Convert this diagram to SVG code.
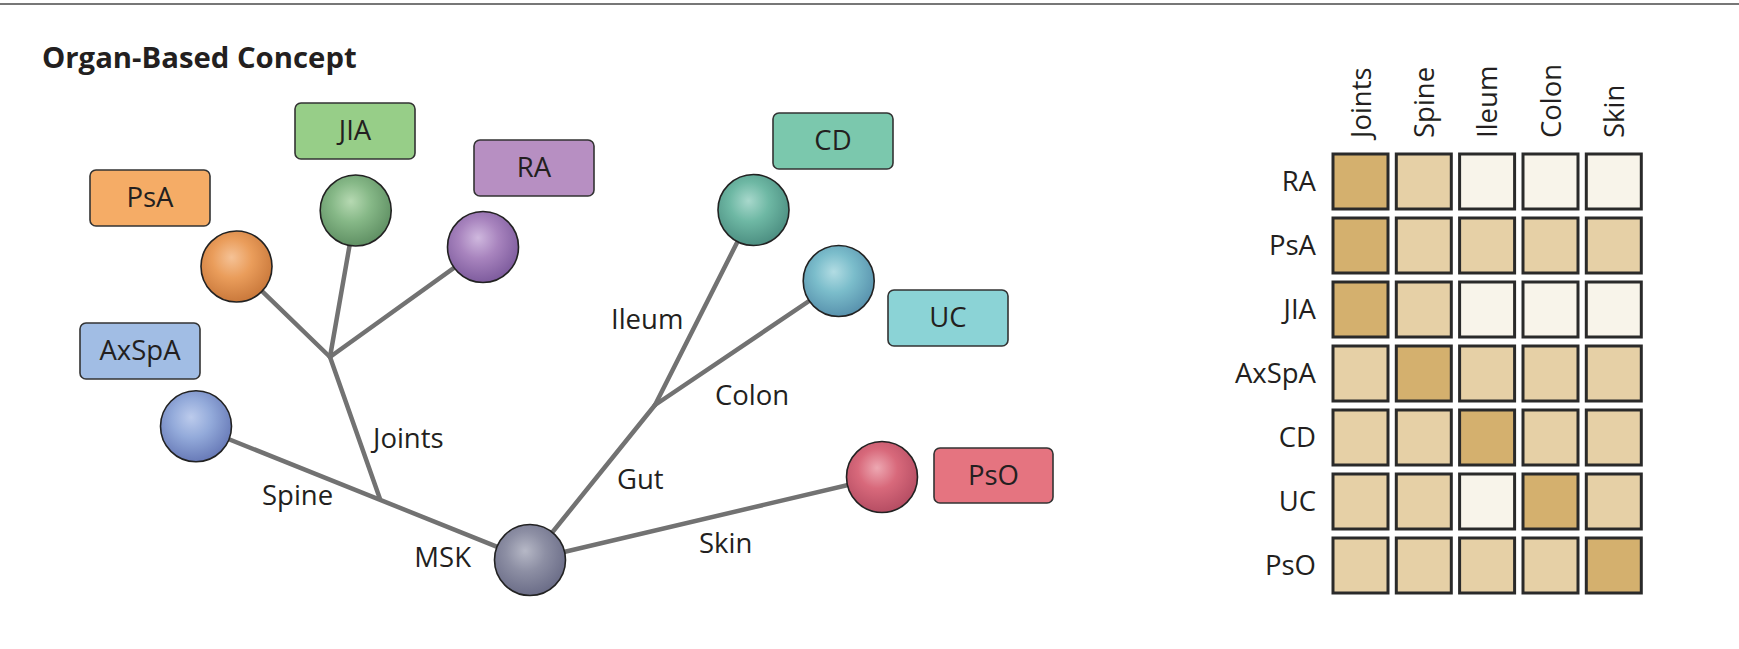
<svg xmlns="http://www.w3.org/2000/svg" width="1739" height="649" viewBox="0 0 1739 649">
<style>
text{font-family:"Open Sans","Liberation Sans",sans-serif;fill:#231F20;}
.lbl{font-size:27.5px;}
.box{stroke:#333;stroke-width:1.6;}
.ball{stroke:#222;stroke-width:1.6;}
.edge{stroke:#727272;stroke-width:4.5;fill:none;stroke-linecap:round;}
.cell{stroke:#2a2a2a;stroke-width:3;}
.D{fill:#D4B06E;}
.M{fill:#E6D0A6;}
.L{fill:#F8F4EA;}
</style>
<defs>
<radialGradient id="gPsA" cx="0.45" cy="0.4" r="0.62" fx="0.43" fy="0.37"><stop offset="0" stop-color="#F5C296"/><stop offset="0.45" stop-color="#EA9D5B"/><stop offset="1" stop-color="#C8773A"/></radialGradient>
<radialGradient id="gJIA" cx="0.45" cy="0.4" r="0.62" fx="0.43" fy="0.37"><stop offset="0" stop-color="#B6D9B2"/><stop offset="0.45" stop-color="#86B887"/><stop offset="1" stop-color="#5E8E62"/></radialGradient>
<radialGradient id="gRA" cx="0.45" cy="0.4" r="0.62" fx="0.43" fy="0.37"><stop offset="0" stop-color="#CFB8DE"/><stop offset="0.45" stop-color="#A884BE"/><stop offset="1" stop-color="#7C5A9C"/></radialGradient>
<radialGradient id="gAx" cx="0.45" cy="0.4" r="0.62" fx="0.43" fy="0.37"><stop offset="0" stop-color="#BCCBEC"/><stop offset="0.45" stop-color="#93AADA"/><stop offset="1" stop-color="#6678B6"/></radialGradient>
<radialGradient id="gMSK" cx="0.45" cy="0.4" r="0.62" fx="0.43" fy="0.37"><stop offset="0" stop-color="#B6B8C6"/><stop offset="0.45" stop-color="#8D8FA4"/><stop offset="1" stop-color="#696B86"/></radialGradient>
<radialGradient id="gCD" cx="0.45" cy="0.4" r="0.62" fx="0.43" fy="0.37"><stop offset="0" stop-color="#A8D8CC"/><stop offset="0.45" stop-color="#6EB8A4"/><stop offset="1" stop-color="#4B8D80"/></radialGradient>
<radialGradient id="gUC" cx="0.45" cy="0.4" r="0.62" fx="0.43" fy="0.37"><stop offset="0" stop-color="#B2DCE3"/><stop offset="0.45" stop-color="#7BBDCB"/><stop offset="1" stop-color="#5790AC"/></radialGradient>
<radialGradient id="gPsO" cx="0.45" cy="0.4" r="0.62" fx="0.43" fy="0.37"><stop offset="0" stop-color="#EDA8B2"/><stop offset="0.45" stop-color="#D8697B"/><stop offset="1" stop-color="#B44C62"/></radialGradient>
</defs>

<rect x="0" y="0" width="1739" height="649" fill="#fff"/>
<line x1="0" y1="4" x2="1739" y2="4" stroke="#777" stroke-width="2.2"/>
<text x="42" y="68" font-size="29.3" font-weight="bold">Organ-Based Concept</text>

<g id="connectors">
<line class="edge" x1="196" y1="426" x2="530" y2="560"/>
<line class="edge" x1="380" y1="499" x2="330" y2="357"/>
<line class="edge" x1="330" y1="357" x2="236.5" y2="266.5"/>
<line class="edge" x1="330" y1="357" x2="355.7" y2="210.5"/>
<line class="edge" x1="330" y1="357" x2="483" y2="247"/>
<line class="edge" x1="530" y1="560" x2="655" y2="405"/>
<line class="edge" x1="655" y1="405" x2="753.5" y2="210"/>
<line class="edge" x1="655" y1="405" x2="838.7" y2="281"/>
<line class="edge" x1="530" y1="560" x2="882" y2="477"/>
<text class="lbl" x="373" y="448">Joints</text>
<text class="lbl" x="262" y="505">Spine</text>
<text class="lbl" x="611" y="329">Ileum</text>
<text class="lbl" x="715" y="405">Colon</text>
<text class="lbl" x="617" y="489">Gut</text>
<text class="lbl" x="699" y="553">Skin</text>
</g>

<g id="node-MSK">
<circle class="ball" cx="530" cy="560" r="35.5" fill="url(#gMSK)"/>
<text class="lbl" x="471" y="567" text-anchor="end">MSK</text>
</g>
<g id="node-PsA">
<rect class="box" x="90" y="170" width="120" height="56" rx="6" fill="#F5AC66"/>
<text class="lbl" x="150" y="207" text-anchor="middle">PsA</text>
<circle class="ball" cx="236.5" cy="266.5" r="35.5" fill="url(#gPsA)"/>
</g>
<g id="node-JIA">
<rect class="box" x="295" y="103" width="120" height="56" rx="6" fill="#97CE88"/>
<text class="lbl" x="355" y="140" text-anchor="middle">JIA</text>
<circle class="ball" cx="355.7" cy="210.5" r="35.5" fill="url(#gJIA)"/>
</g>
<g id="node-RA">
<rect class="box" x="474" y="140" width="120" height="56" rx="6" fill="#B78FC2"/>
<text class="lbl" x="534" y="177" text-anchor="middle">RA</text>
<circle class="ball" cx="483" cy="247" r="35.5" fill="url(#gRA)"/>
</g>
<g id="node-AxSpA">
<rect class="box" x="80" y="323" width="120" height="56" rx="6" fill="#A1BDE4"/>
<text class="lbl" x="140" y="360" text-anchor="middle">AxSpA</text>
<circle class="ball" cx="196" cy="426.3" r="35.5" fill="url(#gAx)"/>
</g>
<g id="node-CD">
<rect class="box" x="773" y="113" width="120" height="56" rx="6" fill="#7BC8AD"/>
<text class="lbl" x="833" y="150" text-anchor="middle">CD</text>
<circle class="ball" cx="753.5" cy="210" r="35.5" fill="url(#gCD)"/>
</g>
<g id="node-UC">
<rect class="box" x="888" y="290" width="120" height="56" rx="6" fill="#8BD3D6"/>
<text class="lbl" x="948" y="327" text-anchor="middle">UC</text>
<circle class="ball" cx="838.7" cy="281" r="35.5" fill="url(#gUC)"/>
</g>
<g id="node-PsO">
<rect class="box" x="934" y="448" width="119" height="55" rx="6" fill="#E57480"/>
<text class="lbl" x="993.5" y="485" text-anchor="middle">PsO</text>
<circle class="ball" cx="882" cy="477" r="35.5" fill="url(#gPsO)"/>
</g>

<g id="matrix">
<g>
<text class="lbl" transform="translate(1371,138) rotate(-90)">Joints</text>
<text class="lbl" transform="translate(1434,138) rotate(-90)">Spine</text>
<text class="lbl" transform="translate(1497,138) rotate(-90)">Ileum</text>
<text class="lbl" transform="translate(1561,138) rotate(-90)">Colon</text>
<text class="lbl" transform="translate(1624,138) rotate(-90)">Skin</text>
</g>
<g text-anchor="end">
<text class="lbl" x="1316" y="191">RA</text>
<text class="lbl" x="1316" y="255">PsA</text>
<text class="lbl" x="1316" y="319">JIA</text>
<text class="lbl" x="1316" y="383">AxSpA</text>
<text class="lbl" x="1316" y="447">CD</text>
<text class="lbl" x="1316" y="511">UC</text>
<text class="lbl" x="1316" y="575">PsO</text>
</g>
<g id="row-RA">
<rect class="cell D" x="1333" y="154" width="55" height="55"/>
<rect class="cell M" x="1396.3" y="154" width="55" height="55"/>
<rect class="cell L" x="1459.6" y="154" width="55" height="55"/>
<rect class="cell L" x="1523" y="154" width="55" height="55"/>
<rect class="cell L" x="1586.3" y="154" width="55" height="55"/>
</g>
<g id="row-PsA">
<rect class="cell D" x="1333" y="218" width="55" height="55"/>
<rect class="cell M" x="1396.3" y="218" width="55" height="55"/>
<rect class="cell M" x="1459.6" y="218" width="55" height="55"/>
<rect class="cell M" x="1523" y="218" width="55" height="55"/>
<rect class="cell M" x="1586.3" y="218" width="55" height="55"/>
</g>
<g id="row-JIA">
<rect class="cell D" x="1333" y="282" width="55" height="55"/>
<rect class="cell M" x="1396.3" y="282" width="55" height="55"/>
<rect class="cell L" x="1459.6" y="282" width="55" height="55"/>
<rect class="cell L" x="1523" y="282" width="55" height="55"/>
<rect class="cell L" x="1586.3" y="282" width="55" height="55"/>
</g>
<g id="row-AxSpA">
<rect class="cell M" x="1333" y="346" width="55" height="55"/>
<rect class="cell D" x="1396.3" y="346" width="55" height="55"/>
<rect class="cell M" x="1459.6" y="346" width="55" height="55"/>
<rect class="cell M" x="1523" y="346" width="55" height="55"/>
<rect class="cell M" x="1586.3" y="346" width="55" height="55"/>
</g>
<g id="row-CD">
<rect class="cell M" x="1333" y="410" width="55" height="55"/>
<rect class="cell M" x="1396.3" y="410" width="55" height="55"/>
<rect class="cell D" x="1459.6" y="410" width="55" height="55"/>
<rect class="cell M" x="1523" y="410" width="55" height="55"/>
<rect class="cell M" x="1586.3" y="410" width="55" height="55"/>
</g>
<g id="row-UC">
<rect class="cell M" x="1333" y="474" width="55" height="55"/>
<rect class="cell M" x="1396.3" y="474" width="55" height="55"/>
<rect class="cell L" x="1459.6" y="474" width="55" height="55"/>
<rect class="cell D" x="1523" y="474" width="55" height="55"/>
<rect class="cell M" x="1586.3" y="474" width="55" height="55"/>
</g>
<g id="row-PsO">
<rect class="cell M" x="1333" y="538" width="55" height="55"/>
<rect class="cell M" x="1396.3" y="538" width="55" height="55"/>
<rect class="cell M" x="1459.6" y="538" width="55" height="55"/>
<rect class="cell M" x="1523" y="538" width="55" height="55"/>
<rect class="cell D" x="1586.3" y="538" width="55" height="55"/>
</g>
</g>
</svg>
